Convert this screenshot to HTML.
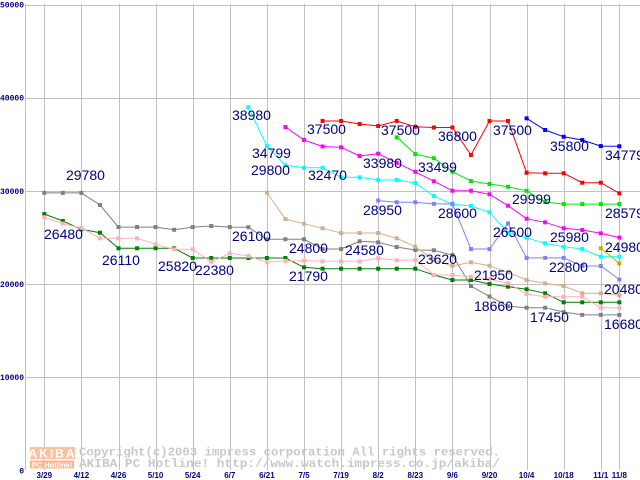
<!DOCTYPE html>
<html><head><meta charset="utf-8">
<style>
html,body{margin:0;padding:0;background:#fff;}
svg{display:block;}
</style></head>
<body>
<svg id="chart" width="640" height="480" xmlns="http://www.w3.org/2000/svg">
<g id="grid"></g>
<g id="yticks"></g>
<g id="xticks"></g>
<g id="series"></g>
<g id="labels"></g>
<g>
  <rect x="30" y="447" width="45" height="12" fill="#f9c2a0"/>
  <text x="52.5" y="457.5" text-anchor="middle" font-family="Liberation Sans, sans-serif" font-weight="bold" font-size="12" fill="#fff" letter-spacing="2">AKIBA</text>
  <rect x="30" y="460.5" width="44" height="8" fill="#f9b890"/>
  <text x="52" y="467.5" text-anchor="middle" font-family="Liberation Sans, sans-serif" font-weight="bold" font-size="7.5" fill="#fff">PC Hotline!</text>
  <text x="79" y="455.5" font-family="Liberation Mono, monospace" font-weight="bold" font-size="12" fill="#c8c8c8" textLength="421" lengthAdjust="spacingAndGlyphs">Copyright(c)2003 impress corporation All rights reserved.</text>
  <text x="79" y="467" font-family="Liberation Mono, monospace" font-weight="bold" font-size="12" fill="#c8c8c8" textLength="421" lengthAdjust="spacingAndGlyphs">AKIBA PC Hotline!  http://www.watch.impress.co.jp/akiba/</text>
</g>
</svg>
<script>
const categories = ["3/29","4/5","4/12","4/19","4/26","5/3","5/10","5/17","5/24","5/31","6/7","6/14","6/21","6/28","7/5","7/12","7/19","7/26","8/2","8/9","8/23","8/30","9/6","9/13","9/20","9/27","10/4","10/11","10/18","10/25","11/1","11/8"];
const tickLabels = ["3/29","4/12","4/26","5/10","5/24","6/7","6/21","7/5","7/19","8/2","8/23","9/6","9/20","10/4","10/18","11/1","11/8"];
const yTicks = [0,10000,20000,30000,40000,50000];
const grayVals = [29780,29780,29780,28480,26110,26110,26110,25820,26110,26220,26110,26100,24800,24800,24800,23750,23750,24580,24470,23970,23650,23620,23110,19780,18660,17600,17450,17450,16990,16680,16680,16680];
const greenVals = [27510,26760,25870,25500,23830,23830,23830,23830,22790,22790,22790,22790,22790,22790,21790,21640,21640,21640,21640,21640,21640,20960,20430,20430,20000,19710,19430,19000,18030,18030,18030,18030];
const pinkVals = [27160,26480,26010,24900,24900,24900,24260,23720,23720,22380,23290,23000,22330,22470,22500,22430,22430,22430,22760,22540,22570,20960,20960,20780,20500,20070,18920,18630,18630,18630,17450,17450];
const tanVals = [null,null,null,null,null,null,null,null,null,null,null,null,29800,26970,26470,25980,25470,25470,25470,24900,24000,22570,21930,22330,21960,21250,20430,20070,19780,19000,19000,18780];
const cyanVals = [null,null,null,null,null,null,null,null,null,null,null,38980,34799,32740,32470,32470,31450,31450,31160,31160,30840,29440,28550,28370,27690,25500,24960,24370,24000,23760,22930,22930];
const magentaVals = [null,null,null,null,null,null,null,null,null,null,null,null,null,36850,35460,34760,34670,33740,33980,33010,32040,31030,30010,30010,29630,28400,27010,26620,25980,25790,25440,24980];
const redVals = [null,null,null,null,null,null,null,null,null,null,null,null,null,null,null,37500,37500,37170,36960,37500,36880,36800,36800,33850,37500,37500,31940,31880,31880,30870,30870,29730];
const limeVals = [null,null,null,null,null,null,null,null,null,null,null,null,null,null,null,null,null,null,null,35740,33950,33499,32050,31050,30730,30440,29999,28800,28579,28579,28579,28579];
const blueVals = [null,null,null,null,null,null,null,null,null,null,null,null,null,null,null,null,null,null,null,null,null,null,null,null,null,null,37780,36530,35800,35450,34800,34779];
const lavenderVals = [null,null,null,null,null,null,null,null,null,null,null,null,null,null,null,null,null,null,28950,28770,28770,28600,28600,23750,23750,26500,22800,22800,22800,21930,21930,20480];
const oliveVals = [null,null,null,null,null,null,null,null,null,null,null,null,null,null,null,null,null,null,null,null,null,null,null,null,null,null,null,null,null,null,23830,22220];
const seriesNames = ["gray","green","pink","tan","cyan","magenta","red","lime","blue","lavender","olive"];
const seriesColors = ["#808080","#008000","#ffb0b8","#d2b08c","#00ffff","#ff00ff","#ff0000","#00e800","#0000ff","#8080ff","#c0b000"];
const seriesData = [grayVals,greenVals,pinkVals,tanVals,cyanVals,magentaVals,redVals,limeVals,blueVals,lavenderVals,oliveVals];
const annotations = [
 ["29780",66,180],["26480",44,239],["26110",102,265],["25820",158,271],["22380",195,275],["26100",232,241],
 ["29800",251,175],["38980",232,120],["34799",252,158],["37500",307,134],["32470",308,180],["24800",289,253],
 ["21790",289,281],["24580",345,255],["33980",363,168],["37500",381,135],["28950",363,215],["33499",418,172],
 ["36800",438,141],["37500",493,135],["23620",418,264],["28600",438,218],["21950",474,280],["26500",493,237],
 ["29999",512,204],["35800",550,151],["34779",605,160],["28579",605,218],["25980",550,242],["24980",605,252],
 ["22800",549,272],["20480",604,294],["18660",474,311],["17450",530,322],["16680",604,329]
];
const NS="http://www.w3.org/2000/svg";
function xPos(i){ return 44.3 + 18.55*i; }
function yPos(v){ return 470.3 - v*0.009316; }
function mk(tag, attrs, parent){ const e=document.createElementNS(NS,tag); for(const k in attrs) e.setAttribute(k,attrs[k]); parent.appendChild(e); return e; }
const grid=document.getElementById('grid');
yTicks.forEach(v=>{ if(v===0) return;
  const l=mk('line',{x1:25.5,x2:640,y1:Math.round(yPos(v))+0.5,y2:Math.round(yPos(v))+0.5,stroke:'#c0c0c0','stroke-width':1},grid);
  
  
});
const ax=mk('line',{x1:25.5,x2:25.5,y1:4,y2:470,stroke:'#c0c0c0','stroke-width':1},grid);


const yt=document.getElementById('yticks');
yTicks.forEach(v=>{
  const t=mk('text',{x:24,y:yPos(v)+3,'text-anchor':'end','font-family':'Liberation Mono, monospace','font-weight':'bold','font-size':8,fill:'#000080'},yt);
  t.textContent=String(v);
  
  
});
const xt=document.getElementById('xticks');
tickLabels.forEach(lab=>{
  const i=categories.indexOf(lab);
  const x=Math.round(xPos(i))+0.5;
  const l=mk('line',{x1:x,x2:x,y1:4,y2:470,stroke:'#c0c0c0','stroke-width':1},grid);
  
  
  const t=mk('text',{x:xPos(i),y:478,'text-anchor':'middle','font-family':'Liberation Sans, sans-serif','font-weight':'bold','font-size':8,fill:'#000080'},xt);
  t.textContent=lab;
  
  
});
const sg=document.getElementById('series');
seriesData.forEach((vals,s)=>{
  const g=mk('g',{},sg);
  
  
  let pts=[];
  vals.forEach((v,i)=>{ if(v!=null) pts.push([xPos(i),yPos(v)]); });
  const pl=mk('polyline',{points:pts.map(p=>p[0].toFixed(1)+','+p[1].toFixed(1)).join(' '),fill:'none',stroke:seriesColors[s],'stroke-width':1},g);
  
  
  pts.forEach(p=>{
    const r=mk('rect',{x:p[0]-2,y:p[1]-2,width:4,height:4,fill:seriesColors[s]},g);
    
    
  });
});
const lg=document.getElementById('labels');
annotations.forEach(a=>{
  const t=mk('text',{x:a[1],y:a[2],'font-family':'Liberation Sans, sans-serif','font-size':14,fill:'#000080'},lg);
  t.textContent=a[0];
  
  
});
</script>
</body></html>
